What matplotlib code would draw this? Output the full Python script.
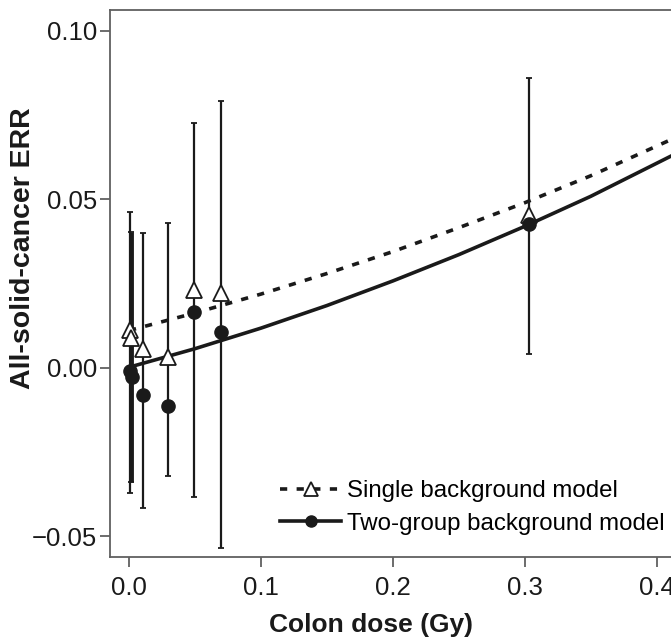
import numpy as np
import matplotlib
matplotlib.use('Agg')
import matplotlib.pyplot as plt
from matplotlib.lines import Line2D

plt.rcParams['font.family'] = ['Liberation Sans', 'DejaVu Sans']

# point estimates, single background model (open triangles)
tri_x = [0.0008, 0.0013, 0.0108, 0.0293, 0.0495, 0.0695, 0.3035]
tri_y = [0.0112, 0.0087, 0.0055, 0.0031, 0.0230, 0.0221, 0.0453]

# point estimates, two-group background model (filled dots)
dot_x = [0.0005, 0.0022, 0.0108, 0.0293, 0.0495, 0.0695, 0.3035]
dot_y = [-0.0010, -0.0029, -0.0081, -0.0114, 0.0164, 0.0105, 0.0425]

# confidence intervals
ci_x = [0.0008, 0.0016, 0.0108, 0.0293, 0.0495, 0.0695, 0.3035]
ci_lo = [-0.0373, -0.0339, -0.0418, -0.0322, -0.0383, -0.0535, 0.0040]
ci_hi = [0.0461, 0.0403, 0.0399, 0.0428, 0.0726, 0.0790, 0.0860]
ci_lw = [1.6, 3.5, 1.6, 1.6, 1.6, 1.6, 1.6]

# fitted curves
fit_x = [0.0, 0.05, 0.1, 0.15, 0.2, 0.25, 0.3, 0.35, 0.43]
single_fit = [0.0110, 0.0162, 0.0218, 0.0279, 0.0344, 0.0415, 0.0489, 0.0569, 0.0710]
twogroup_fit = [0.0001, 0.0056, 0.0117, 0.0184, 0.0257, 0.0335, 0.0419, 0.0508, 0.0665]

fig = plt.figure(figsize=(6.71, 6.40), dpi=100)
ax = fig.add_axes([0.1632, 0.1292, 0.8651, 0.8552])

spine_col = '#606060'
for s in ax.spines.values():
    s.set_color(spine_col)
    s.set_linewidth(1.3)

for x, lo, hi, lw in zip(ci_x, ci_lo, ci_hi, ci_lw):
    ax.errorbar([x], [(lo + hi) / 2], yerr=[[(hi - lo) / 2], [(hi - lo) / 2]],
                fmt='none', ecolor='#1a1a1a', elinewidth=lw, capsize=2, capthick=1.3, zorder=2)

ax.plot(fit_x, single_fit, color='#1a1a1a', lw=2.6, dashes=(2, 2.6), zorder=3)
ax.plot(fit_x, twogroup_fit, color='#1a1a1a', lw=2.6, zorder=3)

ax.plot(tri_x, tri_y, linestyle='none', marker='^', markersize=12, markerfacecolor='white',
        markeredgecolor='#1a1a1a', markeredgewidth=1.3, zorder=4)
ax.plot(dot_x, dot_y, linestyle='none', marker='o', markersize=9.5, color='#1a1a1a', zorder=5)

ax.set_xlim(-0.0148, 0.4253)
ax.set_ylim(-0.0563, 0.1061)
ax.set_xticks([0.0, 0.1, 0.2, 0.3, 0.4])
ax.set_xticklabels(['0.0', '0.1', '0.2', '0.3', '0.4'])
ax.set_yticks([-0.05, 0.0, 0.05, 0.10])
ax.set_yticklabels(['\u22120.05', '0.00', '0.05', '0.10'])
ax.tick_params(axis='both', direction='out', color=spine_col, width=1.3, labelsize=18.5,
               labelcolor='#1a1a1a', length=7.5)
ax.tick_params(axis='x', pad=6)
ax.tick_params(axis='y', pad=1.5)

ax.set_xlabel('Colon dose (Gy)', fontsize=19, fontweight='bold', color='#1a1a1a')
ax.set_ylabel('All-solid-cancer ERR', fontsize=20.5, fontweight='bold', color='#1a1a1a')
ax.xaxis.set_label_coords(0.45, -0.102)
ax.yaxis.set_label_coords(-0.126, 0.565)

handles = [
    Line2D([], [], color='#1a1a1a', lw=2.6, dashes=(2, 2.6), marker='^', markersize=10,
           markerfacecolor='white', markeredgecolor='#1a1a1a', markeredgewidth=1.3),
    Line2D([], [], color='#1a1a1a', lw=2.6, marker='o', markersize=8),
]
ax.legend(handles, ['Single background model', 'Two-group background model'],
          loc='upper left', bbox_to_anchor=(280 / 671, 1 - 480 / 640),
          bbox_transform=fig.transFigure, borderaxespad=0, borderpad=0,
          frameon=False, fontsize=17.3, handlelength=2.55, handletextpad=0.25,
          labelspacing=0.45)

fig.savefig('out.png', dpi=100)
